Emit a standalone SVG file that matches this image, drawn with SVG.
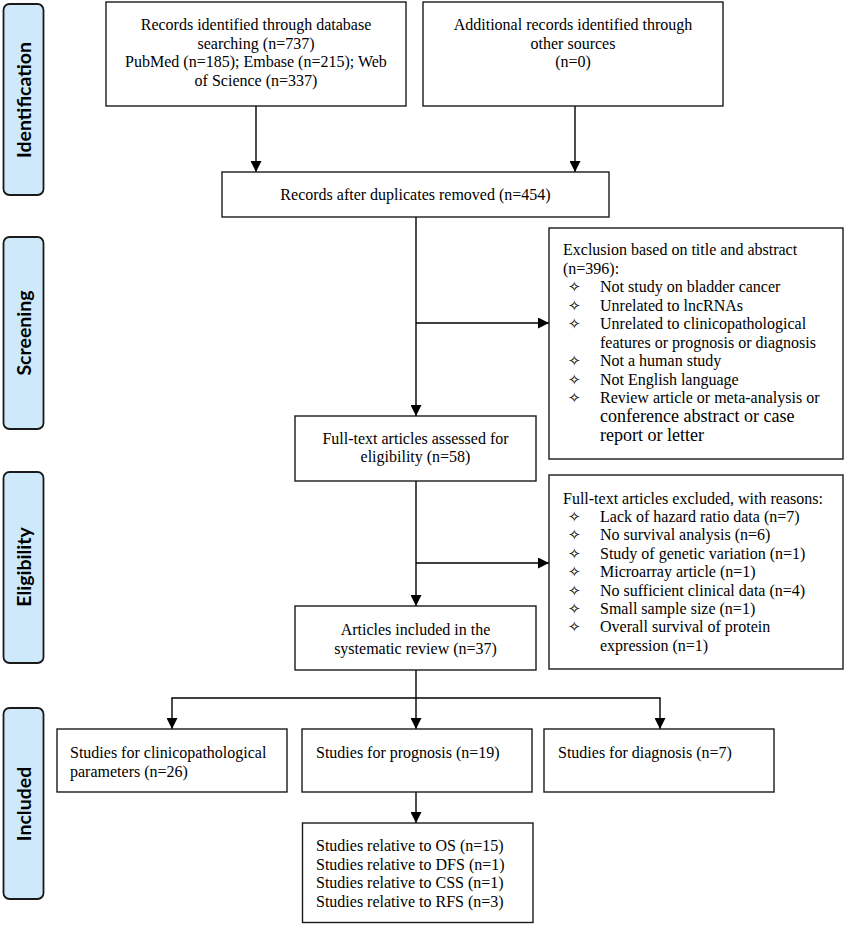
<svg xmlns="http://www.w3.org/2000/svg" width="850" height="926" viewBox="0 0 850 926">
<style>
.bg{fill:#ffffff}
.box{fill:#ffffff;stroke:#1a1a1a;stroke-width:1.4}
.side{fill:#cde9fa;stroke:#1a1a1a;stroke-width:1.8}
.lbl{font-family:Lato,"Open Sans","DejaVu Sans",sans-serif;font-weight:bold;font-size:19.5px;fill:#000;text-anchor:middle}
.t{font-family:"Liberation Serif","Times New Roman",serif;font-size:16px;fill:#000}
.c{text-anchor:middle}
.big{font-size:18px}
.b{font-family:"DejaVu Sans",sans-serif;font-size:15px;fill:#000}
.ln{fill:none;stroke:#000;stroke-width:1.4}
</style>
<defs>
<marker id="ah" markerUnits="userSpaceOnUse" markerWidth="11" markerHeight="11" refX="11" refY="5.5" orient="auto">
<path d="M0,0 L11,5.5 L0,11 z" fill="#000"/>
</marker>
</defs>
<rect class="bg" x="0" y="0" width="850" height="926"/>

<g id="side-identification">
<rect class="side" x="3.5" y="4" width="40" height="191" rx="6"/>
<text class="lbl" transform="translate(31,100) rotate(-90)">Identification</text>
</g>
<g id="side-screening">
<rect class="side" x="3.5" y="237" width="40" height="192" rx="6"/>
<text class="lbl" transform="translate(31,333) rotate(-90)">Screening</text>
</g>
<g id="side-eligibility">
<rect class="side" x="3.5" y="472" width="40" height="191" rx="6"/>
<text class="lbl" transform="translate(31,567) rotate(-90)">Eligibility</text>
</g>
<g id="side-included">
<rect class="side" x="3.5" y="708" width="40" height="191" rx="6"/>
<text class="lbl" transform="translate(31,804) rotate(-90)">Included</text>
</g>

<g id="connectors">
<line class="ln" x1="256" y1="106" x2="256" y2="172" marker-end="url(#ah)"/>
<line class="ln" x1="575" y1="106" x2="575" y2="172" marker-end="url(#ah)"/>
<line class="ln" x1="416" y1="217" x2="416" y2="416" marker-end="url(#ah)"/>
<line class="ln" x1="416" y1="323" x2="549" y2="323" marker-end="url(#ah)"/>
<line class="ln" x1="416" y1="481" x2="416" y2="606" marker-end="url(#ah)"/>
<line class="ln" x1="416" y1="563" x2="549" y2="563" marker-end="url(#ah)"/>
<line class="ln" x1="416" y1="670" x2="416" y2="698"/>
<line class="ln" x1="171.3" y1="698" x2="660.7" y2="698"/>
<line class="ln" x1="172" y1="698" x2="172" y2="729" marker-end="url(#ah)"/>
<line class="ln" x1="416" y1="698" x2="416" y2="729" marker-end="url(#ah)"/>
<line class="ln" x1="660" y1="698" x2="660" y2="729" marker-end="url(#ah)"/>
<line class="ln" x1="416" y1="792" x2="416" y2="823" marker-end="url(#ah)"/>
</g>

<g id="records-db">
<rect class="box" x="106" y="2" width="300" height="104"/>
<text class="t c" x="256" y="30">Records identified through database</text>
<text class="t c" x="256" y="48.5">searching (n=737)</text>
<text class="t c" x="256" y="67">PubMed (n=185); Embase (n=215); Web</text>
<text class="t c" x="256" y="85.5">of Science (n=337)</text>
</g>

<g id="records-other">
<rect class="box" x="423" y="2" width="300" height="104"/>
<text class="t c" x="573" y="30">Additional records identified through</text>
<text class="t c" x="573" y="48.5">other sources</text>
<text class="t c" x="573" y="67">(n=0)</text>
</g>

<g id="records-dedup">
<rect class="box" x="222" y="172" width="387" height="45"/>
<text class="t c" x="415.5" y="200">Records after duplicates removed (n=454)</text>
</g>

<g id="exclusion-title">
<rect class="box" x="549" y="228" width="294" height="231"/>
<text class="t" x="563" y="255">Exclusion based on title and abstract</text>
<text class="t" x="563" y="273.5">(n=396):</text>
<text class="b" x="568" y="292">✧</text><text class="t" x="600" y="292">Not study on bladder cancer</text>
<text class="b" x="568" y="310.5">✧</text><text class="t" x="600" y="310.5">Unrelated to lncRNAs</text>
<text class="b" x="568" y="329">✧</text><text class="t" x="600" y="329">Unrelated to clinicopathological</text>
<text class="t" x="600" y="347.5">features or prognosis or diagnosis</text>
<text class="b" x="568" y="366">✧</text><text class="t" x="600" y="366">Not a human study</text>
<text class="b" x="568" y="384.5">✧</text><text class="t" x="600" y="384.5">Not English language</text>
<text class="b" x="568" y="403">✧</text><text class="t" x="600" y="403">Review article or meta-analysis or</text>
<text class="t big" x="600" y="422">conference abstract or case</text>
<text class="t big" x="600" y="441">report or letter</text>
</g>

<g id="fulltext-assessed">
<rect class="box" x="295" y="416" width="241" height="65"/>
<text class="t c" x="415.5" y="443.5">Full-text articles assessed for</text>
<text class="t c" x="415.5" y="462">eligibility (n=58)</text>
</g>

<g id="fulltext-excluded">
<rect class="box" x="549" y="475" width="294" height="194"/>
<text class="t" x="563" y="503.5">Full-text articles excluded, with reasons:</text>
<text class="b" x="568" y="521.9">✧</text><text class="t" x="600" y="521.9">Lack of hazard ratio data (n=7)</text>
<text class="b" x="568" y="540.3">✧</text><text class="t" x="600" y="540.3">No survival analysis (n=6)</text>
<text class="b" x="568" y="558.7">✧</text><text class="t" x="600" y="558.7">Study of genetic variation (n=1)</text>
<text class="b" x="568" y="577.1">✧</text><text class="t" x="600" y="577.1">Microarray article (n=1)</text>
<text class="b" x="568" y="595.5">✧</text><text class="t" x="600" y="595.5">No sufficient clinical data (n=4)</text>
<text class="b" x="568" y="613.9">✧</text><text class="t" x="600" y="613.9">Small sample size (n=1)</text>
<text class="b" x="568" y="632.3">✧</text><text class="t" x="600" y="632.3">Overall survival of protein</text>
<text class="t" x="600" y="650.7">expression (n=1)</text>
</g>

<g id="articles-included">
<rect class="box" x="295" y="606" width="241" height="64"/>
<text class="t c" x="415.5" y="635">Articles included in the</text>
<text class="t c" x="415.5" y="653.5">systematic review (n=37)</text>
</g>

<g id="clinicopathological">
<rect class="box" x="57" y="729" width="230" height="63"/>
<text class="t" x="70" y="758">Studies for clinicopathological</text>
<text class="t" x="70" y="776.5">parameters (n=26)</text>
</g>

<g id="prognosis">
<rect class="box" x="302" y="729" width="230" height="63"/>
<text class="t" x="316" y="758">Studies for prognosis (n=19)</text>
</g>

<g id="diagnosis">
<rect class="box" x="544" y="729" width="230" height="63"/>
<text class="t" x="558" y="758">Studies for diagnosis (n=7)</text>
</g>

<g id="relative">
<rect class="box" x="302.5" y="823" width="230.5" height="99.5"/>
<text class="t" x="316" y="851">Studies relative to OS (n=15)</text>
<text class="t" x="316" y="869.5">Studies relative to DFS (n=1)</text>
<text class="t" x="316" y="888">Studies relative to CSS (n=1)</text>
<text class="t" x="316" y="906.5">Studies relative to RFS (n=3)</text>
</g>
</svg>
